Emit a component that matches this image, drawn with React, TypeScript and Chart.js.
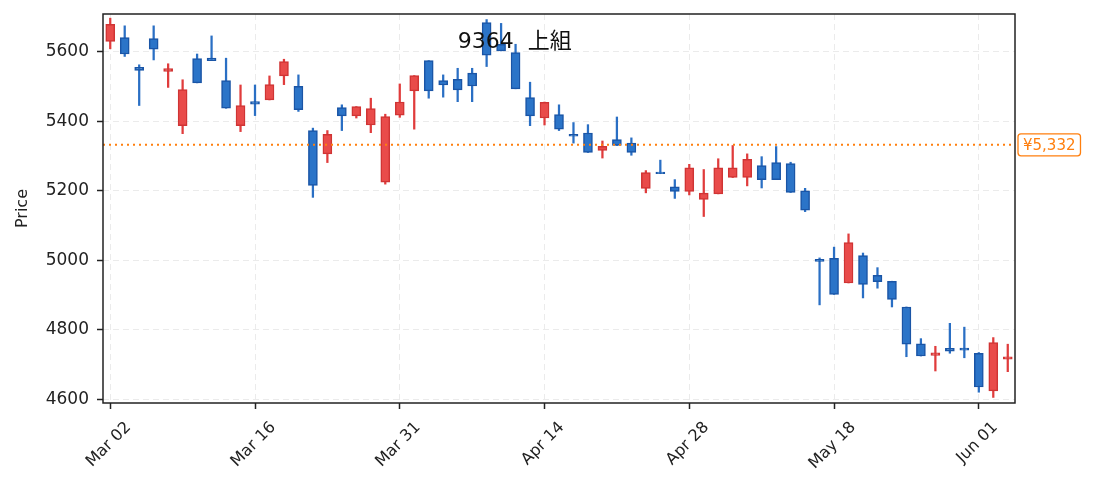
import { useEffect, useRef } from "react";
import { Chart, registerables } from "chart.js";

Chart.register(...registerables);

const dates = [
  "Mar 02", "Mar 03", "Mar 04", "Mar 05", "Mar 06",
  "Mar 09", "Mar 10", "Mar 11", "Mar 12", "Mar 13",
  "Mar 16", "Mar 17", "Mar 18", "Mar 19",
  "Mar 23", "Mar 24", "Mar 25", "Mar 26", "Mar 27",
  "Mar 30", "Mar 31", "Apr 01", "Apr 02", "Apr 03",
  "Apr 06", "Apr 07", "Apr 08", "Apr 09", "Apr 10",
  "Apr 13", "Apr 14", "Apr 15", "Apr 16", "Apr 17",
  "Apr 20", "Apr 21", "Apr 22", "Apr 23", "Apr 24",
  "Apr 27", "Apr 28", "Apr 30", "May 01",
  "May 07", "May 08", "May 11", "May 12", "May 13", "May 14", "May 15",
  "May 18", "May 19", "May 20", "May 21", "May 22",
  "May 25", "May 26", "May 27", "May 28", "May 29",
  "Jun 01", "Jun 02", "Jun 03",
];

const opens = [
  5629, 5640, 5555, 5637, 5543, 5387, 5580, 5581, 5517, 5387,
  5456, 5461, 5530, 5500, 5373, 5306, 5439, 5415, 5389, 5225,
  5417, 5487, 5574, 5517, 5520, 5538, 5683, 5621, 5597, 5468,
  5409, 5419, 5362, 5366, 5316, 5347, 5337, 5207, 5254, 5211,
  5198, 5175, 5191, 5238, 5238, 5272, 5281, 5278, 5200, 5003,
  5006, 4935, 5014, 4957, 4940, 4866, 4760, 4727, 4747, 4748,
  4733, 4625, 4716,
];

const closes = [
  5678, 5593, 5546, 5607, 5551, 5491, 5510, 5574, 5437, 5445,
  5449, 5505, 5571, 5433, 5215, 5362, 5415, 5442, 5436, 5413,
  5455, 5531, 5487, 5504, 5490, 5501, 5590, 5602, 5493, 5415,
  5454, 5377, 5357, 5310, 5328, 5330, 5310, 5252, 5249, 5198,
  5266, 5193, 5266, 5266, 5290, 5232, 5232, 5195, 5144, 4997,
  4902, 5051, 4931, 4939, 4888, 4759, 4725, 4734, 4739, 4742,
  4636, 4764, 4723,
];

const highs = [
  5696, 5674, 5562, 5674, 5565, 5519, 5593, 5645, 5581, 5504,
  5504, 5530, 5578, 5533, 5380, 5373, 5447, 5442, 5466, 5420,
  5507, 5531, 5574, 5533, 5552, 5552, 5692, 5681, 5621, 5512,
  5455, 5447, 5396, 5390, 5343, 5412, 5352, 5258, 5288, 5232,
  5276, 5261, 5292, 5330, 5306, 5298, 5327, 5282, 5207, 5007,
  5038, 5076, 5021, 4979, 4940, 4866, 4775, 4753, 4819, 4808,
  4735, 4778, 4759,
];

const lows = [
  5608, 5586, 5445, 5576, 5497, 5364, 5510, 5574, 5437, 5370,
  5416, 5461, 5505, 5428, 5181, 5281, 5373, 5409, 5367, 5219,
  5411, 5377, 5466, 5469, 5456, 5456, 5557, 5602, 5493, 5387,
  5389, 5373, 5337, 5310, 5294, 5330, 5302, 5194, 5249, 5178,
  5188, 5126, 5191, 5238, 5214, 5208, 5232, 5195, 5140, 4872,
  4902, 4935, 4892, 4920, 4866, 4723, 4725, 4682, 4733, 4720,
  4621, 4606, 4680,
];

const yTicks = [4600, 4800, 5000, 5200, 5400, 5600];
const refPrice = 5332;
const refLabel = "¥5,332";
const title = "9364  上組";

const FONT = "'DejaVu Sans', 'Noto Sans CJK JP', sans-serif";
const UP_FILL = "#e94b4a";
const UP_LINE = "#d03434";
const DOWN_FILL = "#2b74c8";
const DOWN_LINE = "#1a55a6";
const ORANGE = "#ff7f0e";

const isUp = (i: number) => closes[i] >= opens[i];

const framePlugin = {
  id: "frame",
  afterDraw(chart: any) {
    const { ctx, chartArea: a, scales } = chart;
    const y = scales.y.getPixelForValue(refPrice);
    ctx.save();
    // reference price line
    ctx.strokeStyle = ORANGE;
    ctx.lineWidth = 2;
    ctx.setLineDash([2, 4]);
    ctx.beginPath();
    ctx.moveTo(a.left, y);
    ctx.lineTo(a.right, y);
    ctx.stroke();
    ctx.setLineDash([]);

    // frame
    ctx.strokeStyle = "#222";
    ctx.lineWidth = 1.5;
    ctx.strokeRect(a.left, a.top, a.right - a.left, a.bottom - a.top);

    // price label box
    ctx.font = `15px ${FONT}`;
    const w = ctx.measureText(refLabel).width + 10;
    const bx = a.right + 3;
    const by = y - 11;
    ctx.fillStyle = "#fff";
    ctx.strokeStyle = ORANGE;
    ctx.lineWidth = 1.3;
    ctx.beginPath();
    ctx.roundRect(bx, by, w, 22, 3);
    ctx.fill();
    ctx.stroke();
    ctx.fillStyle = ORANGE;
    ctx.textAlign = "left";
    ctx.textBaseline = "middle";
    ctx.fillText(refLabel, bx + 5, y + 1);

    // x tick labels, rotated and centred under their tick
    const xs = scales.x;
    ctx.fillStyle = "#222";
    ctx.font = `16px ${FONT}`;
    ctx.textAlign = "center";
    ctx.textBaseline = "middle";
    xs.ticks.forEach((t: any) => {
      const label = dates[t.value];
      const tw = ctx.measureText(label).width;
      const px = xs.getPixelForValue(t.value) - 1.5;
      const py = a.bottom + 17 + (tw + 14) / (2 * Math.SQRT2);
      ctx.save();
      ctx.translate(px, py);
      ctx.rotate(-Math.PI / 4);
      ctx.fillText(label, 0, 0);
      ctx.restore();
    });

    // title inside the plot
    ctx.fillStyle = "#111";
    ctx.font = `22px ${FONT}`;
    ctx.textAlign = "left";
    ctx.textBaseline = "alphabetic";
    ctx.fillText(title, a.left + (a.right - a.left) * 0.389, a.top + 34);
    ctx.restore();
  },
};

const App = () => {
  const canvasRef = useRef<HTMLCanvasElement>(null);
  const chartRef = useRef<Chart | null>(null);

  useEffect(() => {
    if (!canvasRef.current) return;
    if (chartRef.current) chartRef.current.destroy();

    const bodies = dates.map((_, i) => [
      Math.min(opens[i], closes[i]),
      Math.max(opens[i], closes[i]),
    ]);
    const wicks = dates.map((_, i) => [lows[i], highs[i]]);

    chartRef.current = new Chart(canvasRef.current, {
      type: "bar",
      data: {
        labels: dates,
        datasets: [
          {
            label: "body",
            data: bodies as any,
            grouped: false,
            barThickness: 9,
            backgroundColor: dates.map((_, i) => (isUp(i) ? UP_FILL : DOWN_FILL)),
            borderColor: dates.map((_, i) => (isUp(i) ? UP_LINE : DOWN_LINE)),
            borderWidth: 1.5,
            borderSkipped: false,
          },
          {
            label: "wick",
            data: wicks as any,
            grouped: false,
            barThickness: 1.6,
            backgroundColor: dates.map((_, i) => (isUp(i) ? "#e03c3c" : "#2a6fc4")),
            borderWidth: 0,
          },
        ],
      },
      options: {
        animation: false,
        responsive: true,
        maintainAspectRatio: false,
        layout: { padding: { top: 14, right: 78, left: 0, bottom: 0 } },
        plugins: {
          legend: { display: false },
          tooltip: { enabled: false },
        },
        scales: {
          x: {
            type: "category",
            offset: true,
            afterFit: (s: any) => {
              s.height = 88;
              s.paddingLeft = 0;
              s.paddingRight = 0;
            },
            afterBuildTicks: (s: any) => {
              s.ticks = s.ticks.filter((t: any) => t.value % 10 === 0);
            },
            grid: {
              offset: false,
              color: "#ebebeb",
              lineWidth: 1,
              tickColor: "#222",
              tickLength: 6,
              tickWidth: 1.5,
            },
            border: { display: false, dash: [6, 4] },
            ticks: {
              display: false,
              autoSkip: false,
            },
          },
          y: {
            min: 4590,
            max: 5708,
            afterFit: (s: any) => {
              s.width = 103;
              s.paddingTop = 0;
              s.paddingBottom = 0;
            },
            afterBuildTicks: (s: any) => {
              s.ticks = yTicks.map((v) => ({ value: v }));
            },
            grid: {
              color: "#ebebeb",
              lineWidth: 1,
              tickColor: "#222",
              tickLength: 6,
              tickWidth: 1.5,
            },
            border: { display: false, dash: [6, 4] },
            ticks: {
              includeBounds: false,
              color: "#222",
              padding: 8,
              font: { family: FONT, size: 17 },
              callback: (v: any) => String(v),
            },
            title: {
              display: true,
              text: "Price",
              color: "#222",
              padding: { top: 13, bottom: 0 },
              font: { family: FONT, size: 16 },
            },
          },
        },
      },
      plugins: [framePlugin],
    });

    return () => {
      if (chartRef.current) {
        chartRef.current.destroy();
        chartRef.current = null;
      }
    };
  }, []);

  return (
    <div style={{ position: "absolute", left: 0, top: 0, width: 1093, height: 491, background: "#fff" }}>
      <canvas ref={canvasRef} />
    </div>
  );
};

export default App;
